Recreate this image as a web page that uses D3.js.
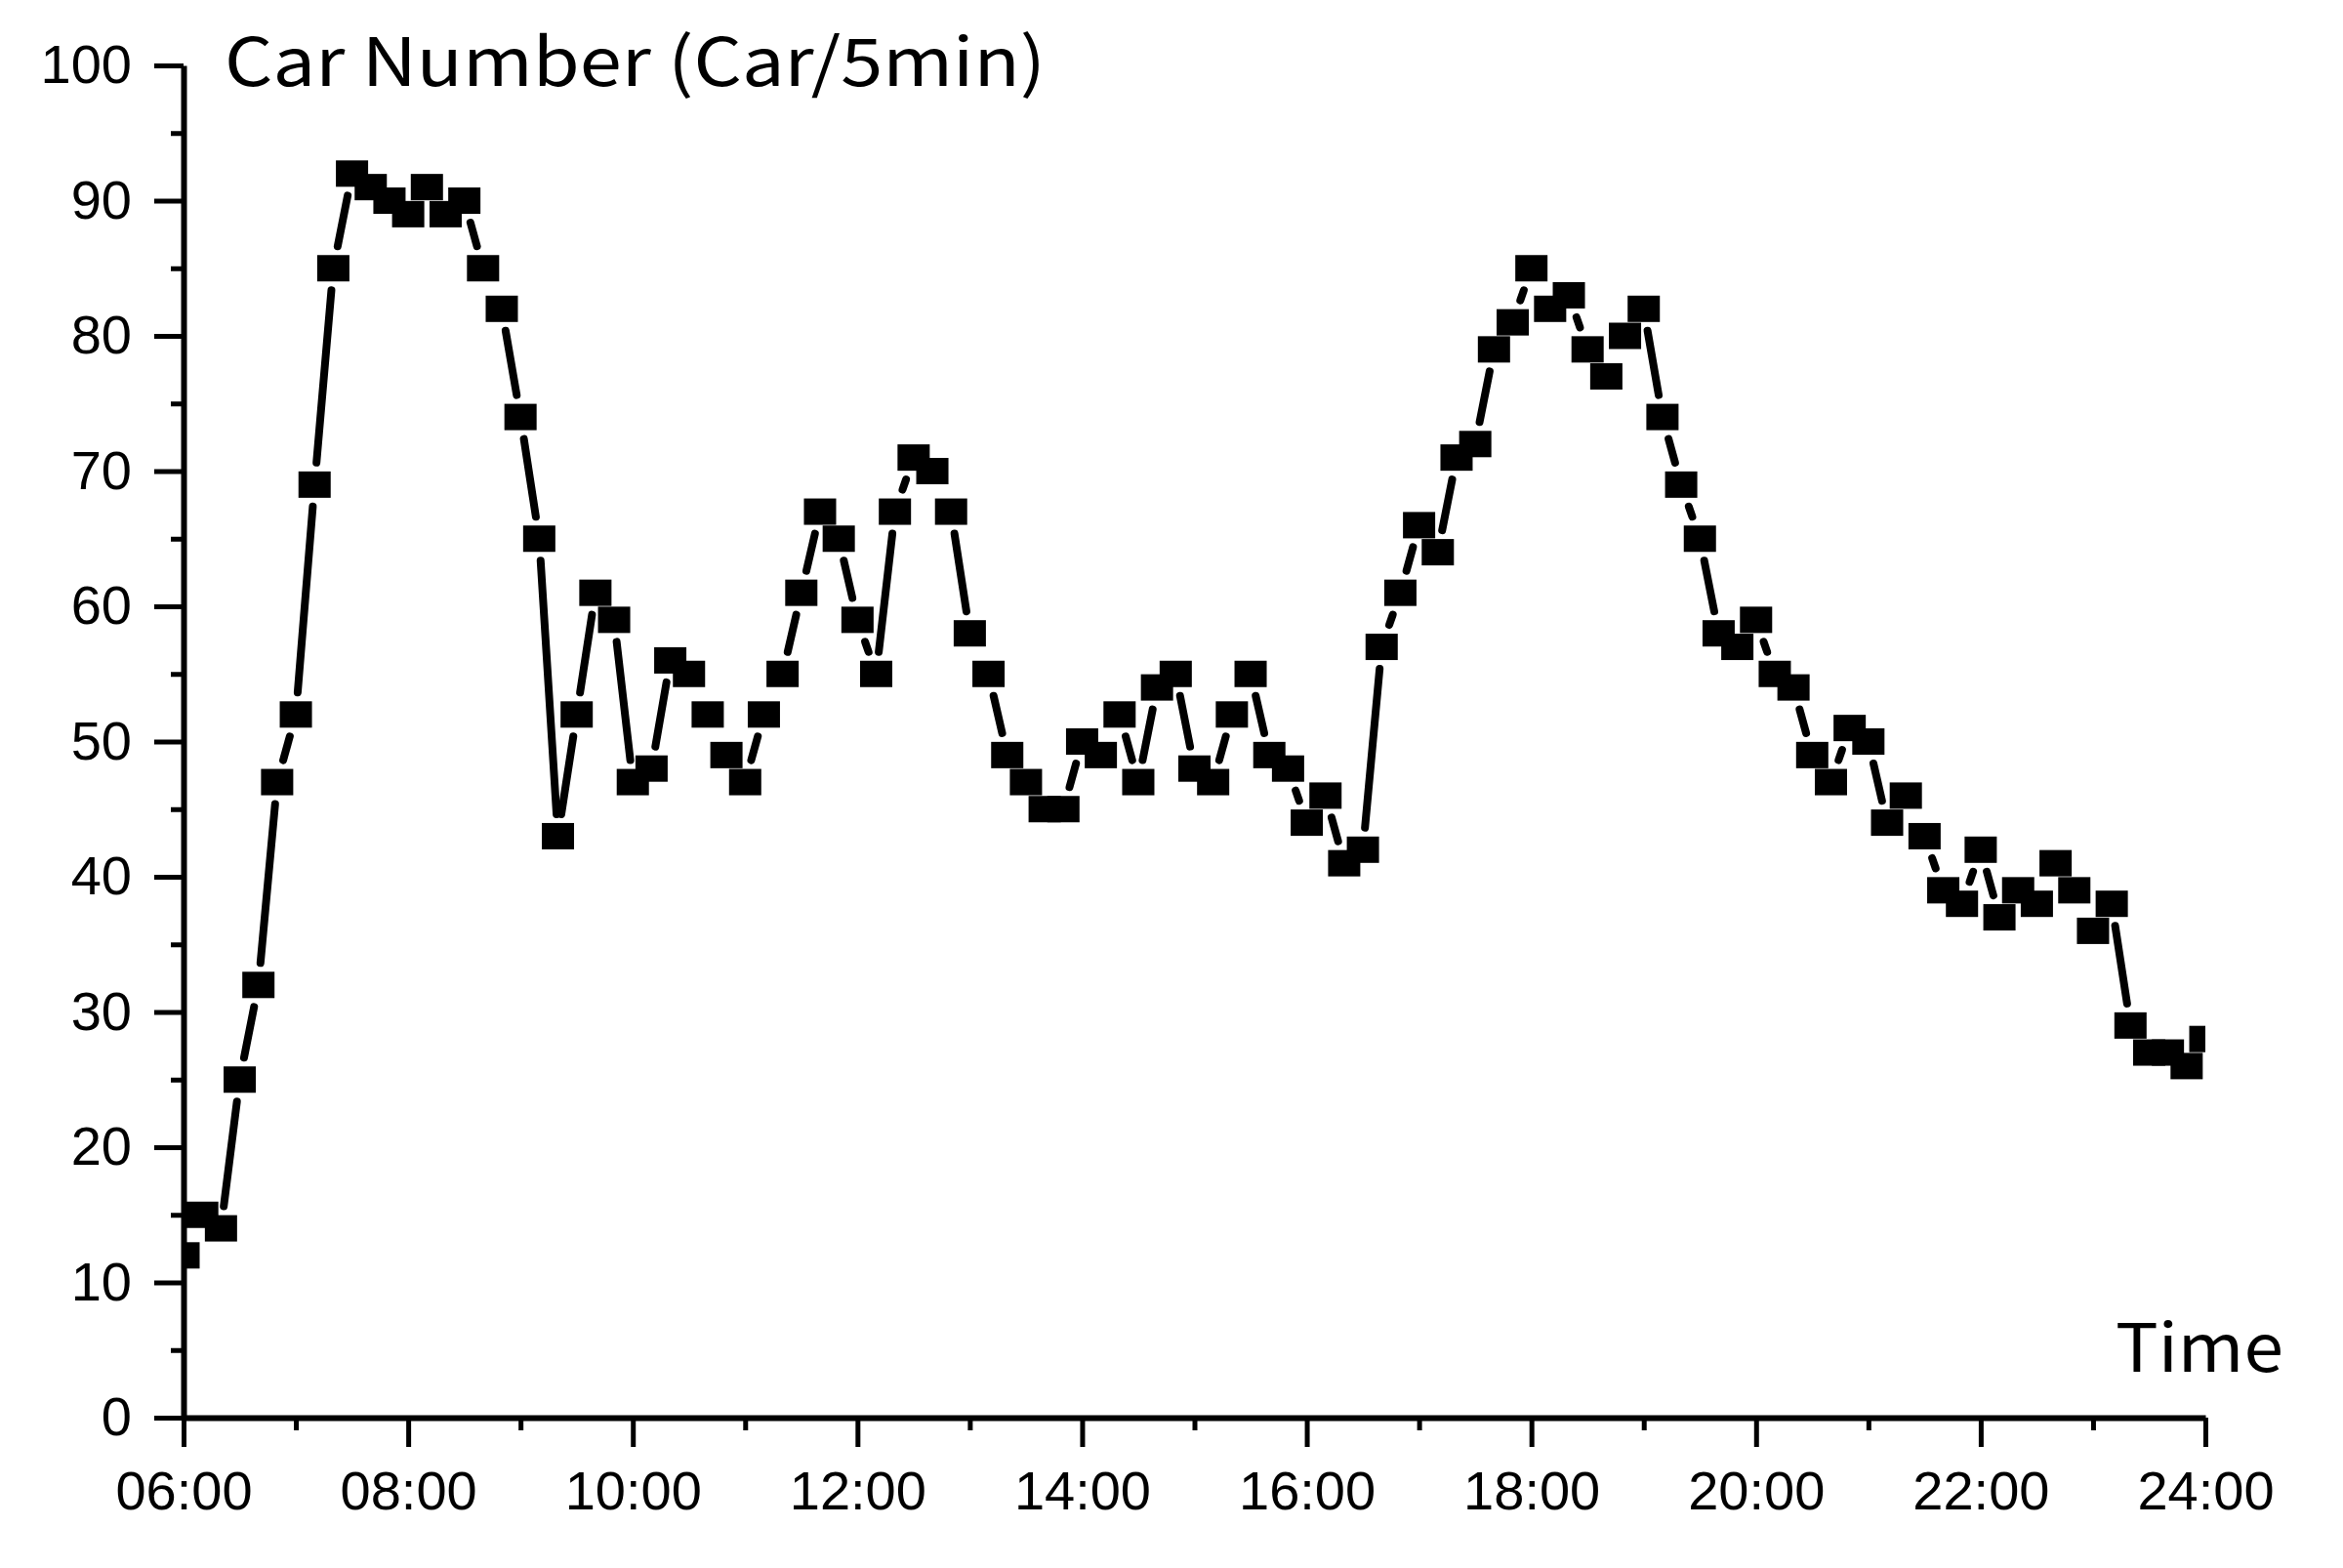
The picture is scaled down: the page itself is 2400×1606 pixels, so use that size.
<!DOCTYPE html>
<html lang="en">
<head>
<meta charset="UTF-8">
<title>Car Number</title>
<script src="https://d3js.org/d3.v7.min.js"></script>
<style>
  body { margin: 0; background: #fff; }
  svg { display: block; }
  .tick text { font-family: "Liberation Sans", Arial, sans-serif; fill: #000; }
  .label { font-family: "Noto Sans CJK SC", "Noto Sans", sans-serif; fill: #000; }
</style>
</head>
<body>
<svg id="canvas"></svg>
<script>
// cars counted per slot, one value every 10 minutes from 06:00 to 24:00
let startHour = 6
let stepMinutes = 10
let carCounts = [
  12, 15, 14, 25, 32, 47,   // 06:00
  52, 69, 85, 92, 91, 90,   // 07:00
  89, 91, 89, 90, 85, 82,   // 08:00
  74, 65, 43, 52, 61, 59,   // 09:00
  47, 48, 56, 55, 52, 49,   // 10:00
  47, 52, 55, 61, 67, 65,   // 11:00
  59, 55, 67, 71, 70, 67,   // 12:00
  58, 55, 49, 47, 45, 45,   // 13:00
  50, 49, 52, 47, 54, 55,   // 14:00
  48, 47, 52, 55, 49, 48,   // 15:00
  44, 46, 41, 42, 57, 61,   // 16:00
  66, 64, 71, 72, 79, 81,   // 17:00
  85, 82, 83, 79, 77, 80,   // 18:00
  82, 74, 69, 65, 58, 57,   // 19:00
  59, 55, 54, 49, 47, 51,   // 20:00
  50, 44, 46, 43, 39, 38,   // 21:00
  42, 37, 39, 38, 41, 39,   // 22:00
  36, 38, 29, 27, 27, 26,   // 23:00
  28                        // 24:00
]

let xTickHours = [6, 8, 10, 12, 14, 16, 18, 20, 22, 24]
let xTickLabels = ["06:00", "08:00", "10:00", "12:00", "14:00", "16:00", "18:00", "20:00", "22:00", "24:00"]
let xMinorHours = [7, 9, 11, 13, 15, 17, 19, 21, 23]
let yTicks = [0, 10, 20, 30, 40, 50, 60, 70, 80, 90, 100]
let yMinorTicks = [5, 15, 25, 35, 45, 55, 65, 75, 85, 95]

let yTitle = "Car Number (Car/5min)"
let xTitle = "Time"

let width = 2400
let height = 1606
let plotLeft = 188
let plotRight = 2259
let plotTop = 67
let plotBottom = 1452

let markW = 33
let markH = 27
let gap = 9

let svg = d3.select('#canvas')
  .attr('width', width)
  .attr('height', height)

let points = carCounts.map((v, i) => ({ hour: startHour + i * stepMinutes / 60, value: v }))

let xScale = d3.scaleLinear().domain([6, 24]).range([plotLeft, plotRight])
let yScale = d3.scaleLinear().domain([0, 100]).range([plotBottom, plotTop])

svg.append('clipPath').attr('id', 'plot-clip')
  .append('rect')
  .attr('x', plotLeft).attr('y', 0)
  .attr('width', plotRight - plotLeft).attr('height', plotBottom)

let plot = svg.append('g').attr('clip-path', 'url(#plot-clip)')

// connecting lines, cut back so they stop short of the markers
let hw = markW / 2 + gap
let hh = markH / 2 + gap
let segs = []
for (let i = 0; i < points.length - 1; i++) {
  let x1 = xScale(points[i].hour), y1 = yScale(points[i].value)
  let x2 = xScale(points[i + 1].hour), y2 = yScale(points[i + 1].value)
  let dx = x2 - x1, dy = y2 - y1
  let len = Math.sqrt(dx * dx + dy * dy)
  let ux = Math.abs(dx) / len, uy = Math.abs(dy) / len
  let t = Math.min(ux > 0 ? hw / ux : Infinity, uy > 0 ? hh / uy : Infinity)
  if (len - 2 * t > 2) {
    segs.push([x1 + dx / len * t, y1 + dy / len * t, x2 - dx / len * t, y2 - dy / len * t])
  }
}

plot.selectAll('line.link')
  .data(segs)
  .enter()
  .append('line')
  .attr('class', 'link')
  .attr('x1', d => d[0]).attr('y1', d => d[1])
  .attr('x2', d => d[2]).attr('y2', d => d[3])
  .attr('stroke', '#000')
  .attr('stroke-width', 8)
  .attr('stroke-linecap', 'round')

plot.selectAll('rect.mark')
  .data(points)
  .enter()
  .append('rect')
  .attr('class', 'mark')
  .attr('x', d => xScale(d.hour) - markW / 2)
  .attr('y', d => yScale(d.value) - markH / 2)
  .attr('width', markW)
  .attr('height', markH)
  .attr('fill', '#000')

// axes
let yAxis = d3.axisLeft(yScale)
  .tickValues(yTicks)
  .tickSize(30)
  .tickSizeOuter(0)
  .tickPadding(23)
let gy = svg.append('g')
  .attr('transform', 'translate(' + plotLeft + ',0)')
  .call(yAxis)
gy.selectAll('text').style('font-size', '56px')

let yMinor = d3.axisLeft(yScale).tickValues(yMinorTicks).tickSize(13).tickFormat('')
let gym = svg.append('g').attr('transform', 'translate(' + plotLeft + ',0)').call(yMinor)
gym.select('.domain').remove()

let xAxis = d3.axisBottom(xScale)
  .tickValues(xTickHours)
  .tickFormat((d, i) => xTickLabels[i])
  .tickSize(30)
  .tickSizeOuter(0)
  .tickPadding(24)
let gx = svg.append('g')
  .attr('transform', 'translate(0,' + plotBottom + ')')
  .call(xAxis)
gx.selectAll('text').style('font-size', '56px')

let xMinor = d3.axisBottom(xScale).tickValues(xMinorHours).tickSize(13).tickFormat('')
let gxm = svg.append('g').attr('transform', 'translate(0,' + plotBottom + ')').call(xMinor)
gxm.select('.domain').remove()

svg.selectAll('.domain').attr('stroke', '#000').attr('stroke-width', 6)
svg.selectAll('.tick line').attr('stroke', '#000').attr('stroke-width', 5)

svg.append('text')
  .attr('class', 'label')
  .attr('x', 230)
  .attr('y', 88)
  .attr('textLength', 841)
  .attr('lengthAdjust', 'spacingAndGlyphs')
  .style('font-size', '68px')
  .text(yTitle)

svg.append('text')
  .attr('class', 'label')
  .attr('x', 2167)
  .attr('y', 1405)
  .attr('textLength', 172)
  .attr('lengthAdjust', 'spacingAndGlyphs')
  .style('font-size', '68px')
  .text(xTitle)
</script>
</body>
</html>
